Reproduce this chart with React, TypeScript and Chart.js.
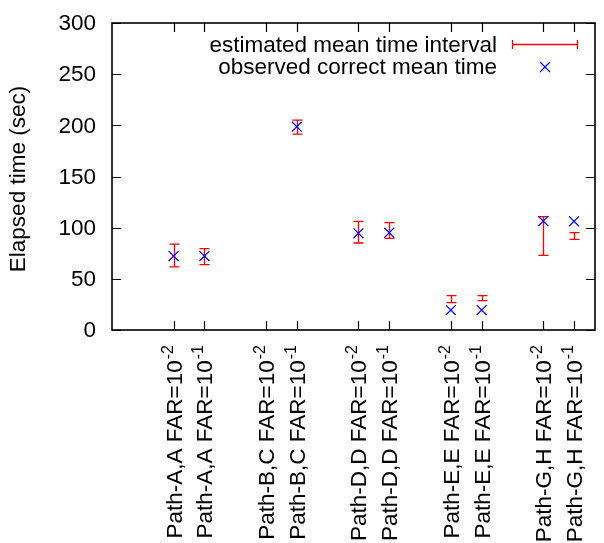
import React, { useEffect, useRef } from "react";
import { Chart, registerables } from "chart.js";

Chart.register(...registerables);

// ---- data ----
const categoryBase = [
  "Path-A,A FAR=10", "Path-A,A FAR=10",
  "Path-B,C FAR=10", "Path-B,C FAR=10",
  "Path-D,D FAR=10", "Path-D,D FAR=10",
  "Path-E,E FAR=10", "Path-E,E FAR=10",
  "Path-G,H FAR=10", "Path-G,H FAR=10",
];
const categoryExp = ["-2", "-1", "-2", "-1", "-2", "-1", "-2", "-1", "-2", "-1"];
const categoryPos = [1, 2, 4, 5, 7, 8, 10, 11, 13, 14];

const estLow: (number | null)[] = [61.6, 63.8, null, 191.5, 85, 89.6, 26.7, 28.7, 73, 88.6];
const estHigh: (number | null)[] = [84, 79.5, null, 205, 106.2, 104.9, 33.6, 33.6, 110.8, 95.1];
const observed: (number | null)[] = [72.3, 72.3, null, 198.7, 94.5, 95.1, 19.5, 19.5, 106.5, 106.2];

const yTicks = [0, 50, 100, 150, 200, 250, 300];
const legendLabels = ["estimated mean time interval", "observed correct mean time"];
const yTitle = "Elapsed time (sec)";

const FONT = '"Liberation Sans", Arial, Helvetica, sans-serif';
const FS = 22.5;
const RED = "#ff0000";
const BLUE = "#0000ff";

const customDraw = {
  id: "customDraw",
  beforeDatasetsDraw(chart: any) {
    const { ctx, scales } = chart;
    const xs = scales.x;
    const ys = scales.y;
    ctx.save();
    ctx.strokeStyle = RED;
    ctx.lineWidth = 1.3;
    for (let i = 0; i < categoryPos.length; i++) {
      const lo = estLow[i];
      const hi = estHigh[i];
      if (lo == null || hi == null) continue;
      const px = Math.round(xs.getPixelForValue(categoryPos[i])) + 0.5;
      const pl = ys.getPixelForValue(lo);
      const ph = ys.getPixelForValue(hi);
      ctx.beginPath();
      ctx.moveTo(px, pl);
      ctx.lineTo(px, ph);
      ctx.moveTo(px - 5, pl);
      ctx.lineTo(px + 5, pl);
      ctx.moveTo(px - 5, ph);
      ctx.lineTo(px + 5, ph);
      ctx.stroke();
    }
    ctx.restore();
  },
  afterDraw(chart: any) {
    const { ctx, scales, chartArea } = chart;
    const xs = scales.x;
    const ys = scales.y;
    const { left, right, top, bottom } = chartArea;
    ctx.save();
    // frame
    ctx.strokeStyle = "#000";
    ctx.lineWidth = 1.6;
    ctx.strokeRect(left, top, right - left, bottom - top);
    // ticks
    ctx.lineWidth = 1.2;
    const tl = 9;
    ctx.beginPath();
    for (const v of yTicks) {
      const py = Math.round(ys.getPixelForValue(v)) + 0.5;
      ctx.moveTo(left, py);
      ctx.lineTo(left + tl, py);
      ctx.moveTo(right, py);
      ctx.lineTo(right - tl, py);
    }
    for (const v of categoryPos) {
      const px = Math.round(xs.getPixelForValue(v)) + 0.5;
      ctx.moveTo(px, bottom);
      ctx.lineTo(px, bottom - tl);
      ctx.moveTo(px, top);
      ctx.lineTo(px, top + tl);
    }
    ctx.stroke();

    ctx.fillStyle = "#000";
    // y tick labels
    ctx.font = FS + "px " + FONT;
    ctx.textAlign = "right";
    ctx.textBaseline = "middle";
    for (const v of yTicks) {
      ctx.fillText(String(v), left - 16, ys.getPixelForValue(v) + 1);
    }

    // x labels (rotated, with superscript)
    for (let i = 0; i < categoryPos.length; i++) {
      const px = xs.getPixelForValue(categoryPos[i]);
      ctx.save();
      ctx.translate(px + 8, bottom + 15);
      ctx.rotate(-Math.PI / 2);
      ctx.textBaseline = "alphabetic";
      ctx.textAlign = "right";
      ctx.font = "16px " + FONT;
      const supW = ctx.measureText(categoryExp[i]).width;
      ctx.fillText(categoryExp[i], 0, -9);
      ctx.font = FS + "px " + FONT;
      ctx.fillText(categoryBase[i], -supW - 1, 0);
      ctx.restore();
    }

    // y title
    ctx.save();
    ctx.translate(25, 179);
    ctx.rotate(-Math.PI / 2);
    ctx.font = FS + "px " + FONT;
    ctx.textAlign = "center";
    ctx.textBaseline = "alphabetic";
    ctx.fillText(yTitle, 0, 0);
    ctx.restore();

    // legend
    ctx.font = FS + "px " + FONT;
    ctx.textAlign = "right";
    ctx.textBaseline = "middle";
    ctx.fillText(legendLabels[0], 497, 46);
    ctx.fillText(legendLabels[1], 497, 68);
    ctx.strokeStyle = RED;
    ctx.lineWidth = 1.3;
    ctx.beginPath();
    ctx.moveTo(512, 44.5);
    ctx.lineTo(577, 44.5);
    ctx.moveTo(512.5, 40);
    ctx.lineTo(512.5, 49);
    ctx.moveTo(577.5, 40);
    ctx.lineTo(577.5, 49);
    ctx.stroke();
    ctx.strokeStyle = BLUE;
    ctx.lineWidth = 1.2;
    ctx.beginPath();
    ctx.moveTo(540, 62);
    ctx.lineTo(550, 72);
    ctx.moveTo(550, 62);
    ctx.lineTo(540, 72);
    ctx.stroke();
    ctx.restore();
  },
};

export default function App() {
  const ref = useRef<HTMLCanvasElement | null>(null);
  useEffect(() => {
    if (!ref.current) return;
    const obsData = categoryPos
      .map((x, i) => (observed[i] == null ? null : { x, y: observed[i] as number }))
      .filter((d) => d !== null) as { x: number; y: number }[];
    const chart = new Chart(ref.current, {
      type: "scatter",
      data: {
        datasets: [
          {
            label: legendLabels[1],
            data: obsData,
            pointStyle: "crossRot",
            pointRadius: 7,
            borderColor: BLUE,
            backgroundColor: BLUE,
            borderWidth: 1.2,
          },
        ],
      },
      options: {
        animation: false,
        responsive: false,
        maintainAspectRatio: false,
        events: [],
        layout: { padding: { left: 0, top: 23, right: 9, bottom: 0 } },
        plugins: { legend: { display: false }, tooltip: { enabled: false } },
        scales: {
          x: {
            type: "linear",
            min: -1,
            max: 14.68,
            grid: { display: false, drawTicks: false },
            border: { display: false },
            ticks: { display: false },
            afterFit: (s: any) => {
              s.height = 213;
            },
          },
          y: {
            type: "linear",
            min: 0,
            max: 300,
            grid: { display: false, drawTicks: false },
            border: { display: false },
            afterBuildTicks: (s: any) => {
              s.ticks = yTicks.map((v) => ({ value: v }));
            },
            ticks: { display: false },
            afterFit: (s: any) => {
              s.width = 112;
            },
          },
        },
      },
      plugins: [customDraw],
    });
    return () => chart.destroy();
  }, []);
  return (
    <div style={{ position: "fixed", left: 0, top: 0, width: 604, height: 543, background: "#fff" }}>
      <canvas ref={ref} width={604} height={543} style={{ width: 604, height: 543 }} />
    </div>
  );
}
